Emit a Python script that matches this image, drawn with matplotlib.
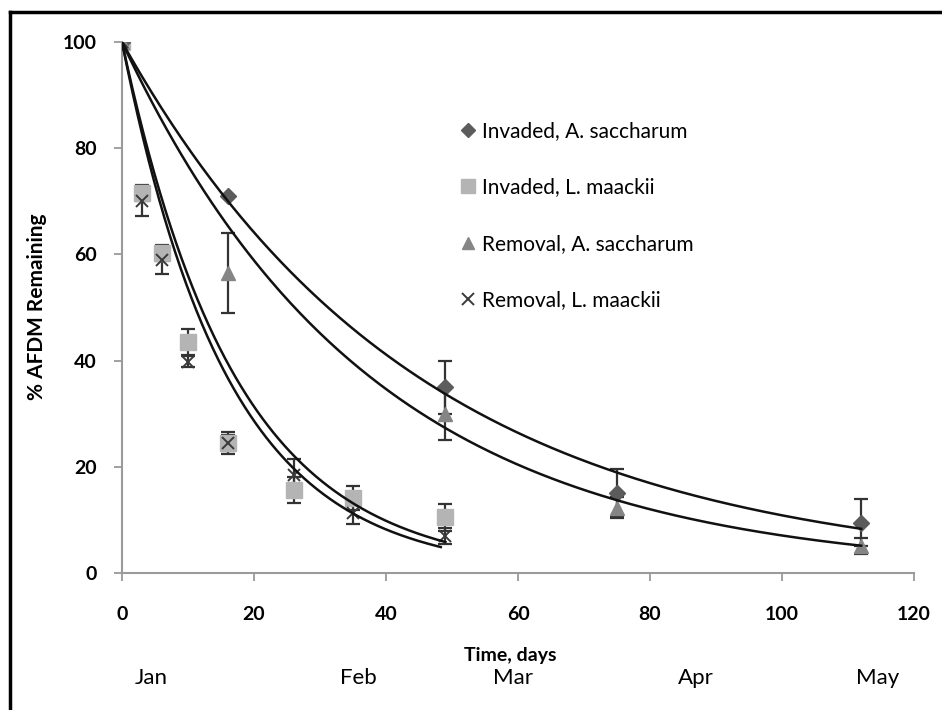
import numpy as np
import matplotlib
matplotlib.use("Agg")
import matplotlib.pyplot as plt
from matplotlib.lines import Line2D
import matplotlib.transforms as mtransforms

plt.rcParams['font.family'] = ['Lato', 'DejaVu Sans']

# ---- data ----
days_as = [0, 16, 49, 75, 112]
inv_as = [100, 71, 35, 15, 9.5]
inv_as_err = [0, 0, 5, 4.5, 4.5]
rem_as = [100, 56.5, 30, 12.3, 5]
rem_as_err = [0, 7.5, 5, 2, 1.5]

days_lm = [0, 3, 6, 10, 16, 26, 35, 49]
inv_lm = [100, 71.5, 60.3, 43.5, 24.5, 15.6, 14.1, 10.5]
inv_lm_err = [0, 1.5, 1.5, 2.5, 1.5, 2.5, 2.3, 2.5]
rem_lm = [100, 70, 59, 39.8, 24.5, 18.4, 11.3, 7]
rem_lm_err = [0, 2.8, 2.6, 1, 2, 3, 2, 1.5]

# exponential trendline decay constants (per day) and fit end day
k_inv_as, end_inv_as = 0.0222, 112
k_rem_as, end_rem_as = 0.0265, 112
k_inv_lm, end_inv_lm = 0.0580, 49
k_rem_lm, end_rem_lm = 0.0625, 48.3

xticks = [0, 20, 40, 60, 80, 100, 120]
yticks = [0, 20, 40, 60, 80, 100]
months = ['Jan', 'Feb', 'Mar', 'Apr', 'May']
month_pos = [4.5, 35.8, 59.2, 87, 114.5]

labels = ['Invaded, A. saccharum', 'Invaded, L. maackii',
          'Removal, A. saccharum', 'Removal, L. maackii']

W, H = 942, 710
fig = plt.figure(figsize=(W / 100, H / 100), dpi=100)
ax = fig.add_axes([122 / W, 1 - 573 / H, (914 - 122) / W, (573 - 42) / H])

styles = [
    dict(marker='D', ms=8, color='#5c5c5c', mec='#5c5c5c'),
    dict(marker='s', ms=11.5, color='#b4b4b4', mec='#b4b4b4'),
    dict(marker='^', ms=10, color='#858585', mec='#858585'),
    dict(marker='x', ms=9, color='#3a3a3a', mec='#3a3a3a', mew=1.4),
]
series = [(days_as, inv_as, inv_as_err), (days_lm, inv_lm, inv_lm_err),
          (days_as, rem_as, rem_as_err), (days_lm, rem_lm, rem_lm_err)]
order = [1, 0, 2, 3]
for i in order:
    d, v, e = series[i]
    st = styles[i]
    ax.errorbar(d, v, yerr=e, fmt='none', ecolor='#333333', elinewidth=1.6,
                capsize=5, capthick=1.6, zorder=3)
    ax.plot(d, v, linestyle='none', zorder=4, **st)

for k, end in [(k_inv_as, end_inv_as), (k_rem_as, end_rem_as),
               (k_inv_lm, end_inv_lm), (k_rem_lm, end_rem_lm)]:
    t = np.linspace(0, end, 300)
    ax.plot(t, 100 * np.exp(-k * t), color='#111111', lw=1.8, zorder=5)

ax.set_xlim(0, 120)
ax.set_ylim(0, 100)
ax.set_xticks(xticks)
ax.set_yticks(yticks)
ax.tick_params(axis='x', length=6, width=1.3, color='#9a9a9a', pad=18,
               labelsize=14, direction='out')
ax.tick_params(axis='y', length=6, width=1.3, color='#9a9a9a', pad=12,
               labelsize=14, direction='out')
for lab in ax.get_xticklabels() + ax.get_yticklabels():
    lab.set_fontweight('bold')
for s in ['top', 'right']:
    ax.spines[s].set_visible(False)
for s in ['left', 'bottom']:
    ax.spines[s].set_color('#9a9a9a')
    ax.spines[s].set_linewidth(1.5)
ax.spines['bottom'].set_zorder(0)

fig.text(37 / W, 1 - 307 / H, '% AFDM Remaining', rotation=90, ha='center',
         va='center', fontsize=15, fontweight='bold')
fig.text(510 / W, 1 - 655 / H, 'Time, days', ha='center', va='center',
         fontsize=14, fontweight='bold')
trans = mtransforms.blended_transform_factory(ax.transData, fig.transFigure)
for m, p in zip(months, month_pos):
    ax.text(p, 1 - 678 / H, m, transform=trans, ha='center', va='center',
            fontsize=16)

handles = [Line2D([], [], linestyle='none', **styles[i]) for i in range(4)]
handles[0].set_markersize(7)
handles[1].set_markersize(10)
handles[2].set_markersize(9)
leg = ax.legend(handles, labels, loc='upper left',
                bbox_to_anchor=(460 / W, 1 - 121 / H),
                bbox_transform=fig.transFigure, frameon=False, fontsize=15,
                labelspacing=1.75, handlelength=0.75, handletextpad=0.3,
                borderpad=0, borderaxespad=0)

# outer frame lines (left and top)
fig.add_artist(Line2D([10 / W, 10 / W], [0, 1 - 12 / H], color='black', lw=2.5,
                      transform=fig.transFigure))
fig.add_artist(Line2D([10 / W, 1], [1 - 12 / H, 1 - 12 / H], color='black', lw=2.5,
                      transform=fig.transFigure))

fig.savefig('out.png', dpi=100)
